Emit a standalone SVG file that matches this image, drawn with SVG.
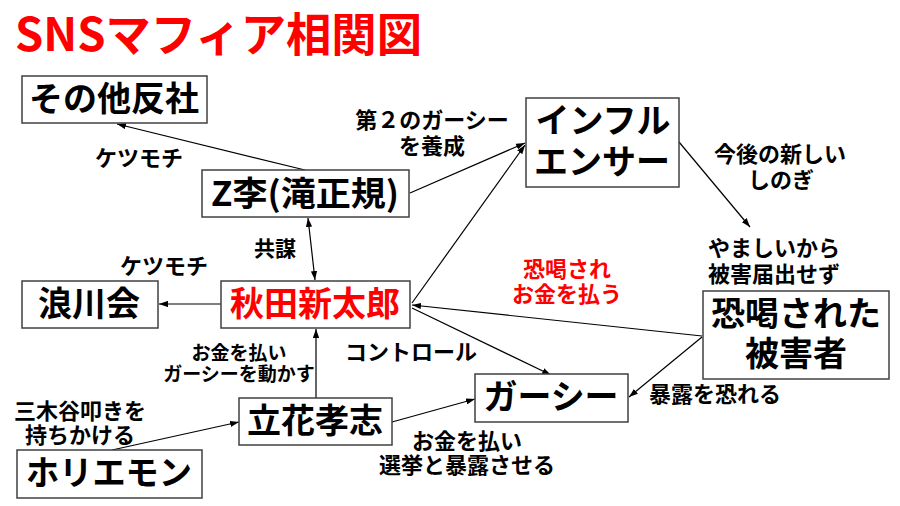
<svg xmlns="http://www.w3.org/2000/svg" width="900" height="506" viewBox="0 0 900 506">
<defs>
<marker id="arr" viewBox="0 0 10 7" refX="10" refY="3.5" markerWidth="9" markerHeight="6.3" orient="auto-start-reverse" markerUnits="userSpaceOnUse">
<path d="M0,0 L10,3.5 L0,7 z" fill="#000"/>
</marker>
<style>
text{font-family:"Noto Sans CJK JP","Noto Sans CJK SC",sans-serif;font-weight:bold;fill:#000}
.box{fill:#fff;stroke:#404040;stroke-width:1.5}
.node{font-size:34px;text-anchor:middle}
.lbl{font-size:22px;text-anchor:middle}
.red{fill:#ff0000}
.con line{stroke:#000;stroke-width:1.2;marker-end:url(#arr)}
</style>
</defs>
<rect width="900" height="506" fill="#fff"/>
<text x="15" y="51" font-size="46" textLength="407" lengthAdjust="spacingAndGlyphs" class="red">SNSマフィア相関図</text>

<g id="connectors" class="con">
<line x1="305" y1="170" x2="117" y2="124"/>
<line x1="410" y1="193" x2="525" y2="143"/>
<line x1="308" y1="218" x2="315" y2="280" marker-start="url(#arr)"/>
<line x1="221" y1="304" x2="159" y2="304"/>
<line x1="412" y1="303" x2="525" y2="145"/>
<line x1="412" y1="308" x2="551" y2="375"/>
<line x1="702" y1="336" x2="412" y2="305"/>
<line x1="702" y1="337" x2="629" y2="397"/>
<line x1="316" y1="398" x2="316" y2="329"/>
<line x1="392" y1="422" x2="475" y2="399"/>
<line x1="112" y1="450" x2="239" y2="422"/>
<line x1="679" y1="142" x2="750" y2="227"/>
</g>

<g id="labels" class="lbl">
<text x="139" y="166">ケツモチ</text>
<text x="164" y="274">ケツモチ</text>
<text x="275" y="256" font-size="21">共謀</text>
<text x="432" y="128">第２のガーシー</text>
<text x="432" y="154">を養成</text>
<text x="780" y="162">今後の新しい</text>
<text x="781" y="188">しのぎ</text>
<text x="774" y="256">やましいから</text>
<text x="774" y="282">被害届出せず</text>
<text x="567" y="277" class="red">恐喝され</text>
<text x="567" y="302" class="red">お金を払う</text>
<text x="411" y="360">コントロール</text>
<text x="239" y="360" font-size="19">お金を払い</text>
<text x="239" y="381" font-size="19">ガーシーを動かす</text>
<text x="80" y="419">三木谷叩きを</text>
<text x="80" y="443">持ちかける</text>
<text x="467" y="449">お金を払い</text>
<text x="467" y="473">選挙と暴露させる</text>
<text x="715" y="402">暴露を恐れる</text>
</g>

<g id="n_sonota">
<rect class="box" x="22" y="76" width="185" height="47"/>
<text class="node" x="114" y="111">その他反社</text>
</g>
<g id="n_zli">
<rect class="box" x="202" y="170" width="207" height="47"/>
<text class="node" x="305" y="206" textLength="188" lengthAdjust="spacingAndGlyphs">Z李(滝正規)</text>
</g>
<g id="n_influencer">
<rect class="box" x="526" y="98" width="153" height="89"/>
<text class="node" x="603" y="133" font-size="35">インフル</text>
<text class="node" x="602" y="174" font-size="35">エンサー</text>
</g>
<g id="n_victim">
<rect class="box" x="703" y="291" width="186" height="88"/>
<text class="node" x="796" y="326">恐喝された</text>
<text class="node" x="796" y="366">被害者</text>
</g>
<g id="n_namikawa">
<rect class="box" x="22" y="281" width="136" height="47"/>
<text class="node" x="89" y="316">浪川会</text>
</g>
<g id="n_akita">
<rect class="box" x="221" y="281" width="189" height="47"/>
<text class="node red" x="315" y="316">秋田新太郎</text>
</g>
<g id="n_tachibana">
<rect class="box" x="239" y="398" width="153" height="47"/>
<text class="node" x="315" y="433">立花孝志</text>
</g>
<g id="n_gaasii">
<rect class="box" x="475" y="374" width="153" height="48"/>
<text class="node" x="551" y="409" textLength="135" lengthAdjust="spacingAndGlyphs">ガーシー</text>
</g>
<g id="n_horiemon">
<rect class="box" x="17" y="450" width="185" height="48"/>
<text class="node" x="109" y="485" textLength="166" lengthAdjust="spacingAndGlyphs">ホリエモン</text>
</g>
</svg>
